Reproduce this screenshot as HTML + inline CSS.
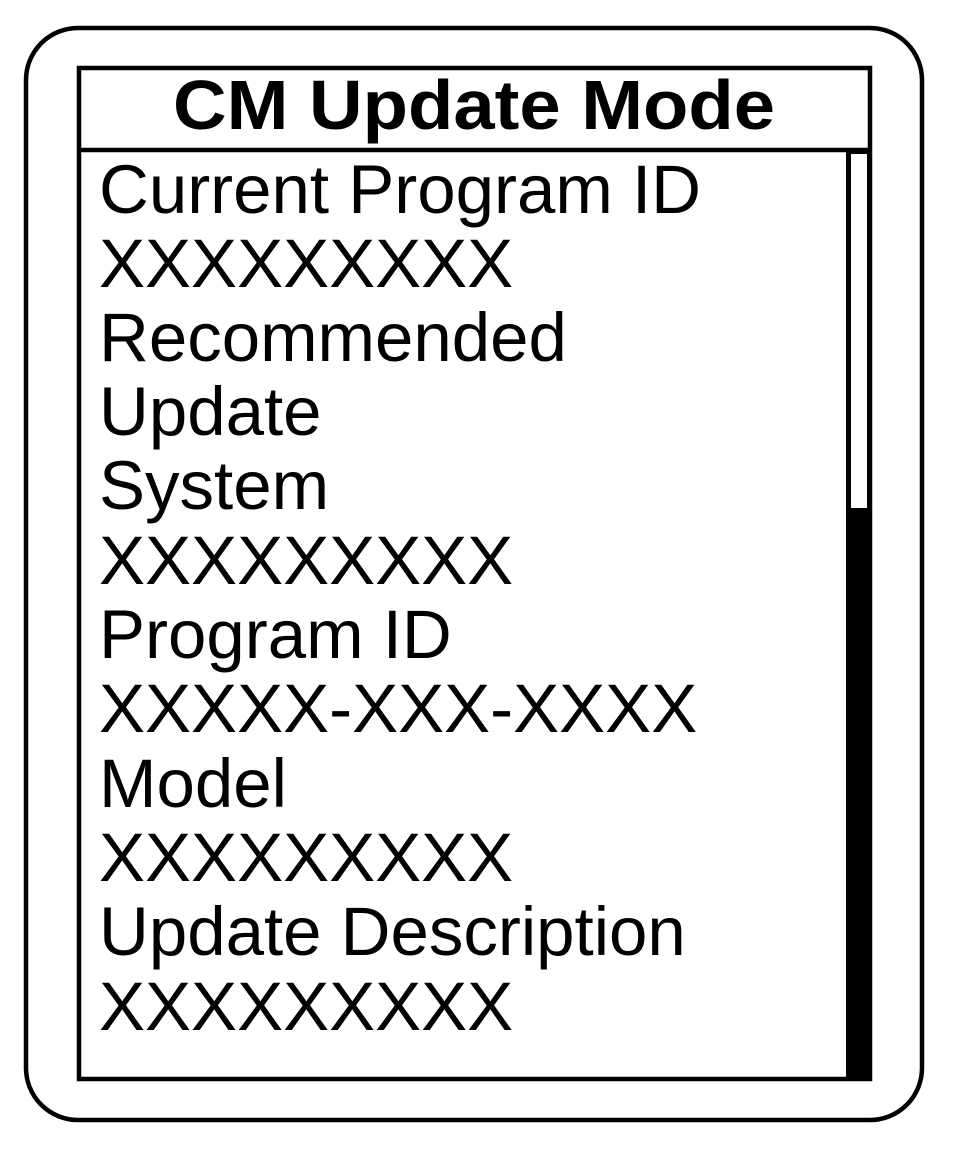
<!DOCTYPE html>
<html><head><style>html,body{margin:0;padding:0;background:#fff;}</style></head>
<body>
<svg width="961" height="1148" viewBox="0 0 961 1148" xmlns="http://www.w3.org/2000/svg">
<rect x="26" y="28" width="896" height="1092" rx="52" ry="52" fill="#fff" stroke="#000" stroke-width="4.5"/>
<rect x="79" y="68" width="791" height="1011" fill="#fff" stroke="#000" stroke-width="4.5"/>
<line x1="79" y1="150" x2="870" y2="150" stroke="#000" stroke-width="4.5"/>
<rect x="846" y="150" width="26" height="931" fill="#000"/>
<rect x="851" y="154" width="16" height="354" fill="#fff"/>
<text x="173" y="129" textLength="602" lengthAdjust="spacingAndGlyphs" font-family="Liberation Sans, sans-serif" font-weight="bold" font-size="70" fill="#000">CM Update Mode</text>
<g font-family="Liberation Sans, sans-serif" font-size="69" fill="#000">
<text x="99" y="213">Current Program ID</text>
<text x="99" y="287">XXXXXXXXX</text>
<text x="99" y="361">Recommended</text>
<text x="99" y="435">Update</text>
<text x="99" y="509">System</text>
<text x="99" y="584">XXXXXXXXX</text>
<text x="99" y="658">Program ID</text>
<text x="99" y="732">XXXXX-XXX-XXXX</text>
<text x="99" y="807">Model</text>
<text x="99" y="881">XXXXXXXXX</text>
<text x="99" y="955">Update Description</text>
<text x="99" y="1030">XXXXXXXXX</text>
</g>
</svg>
</body></html>
